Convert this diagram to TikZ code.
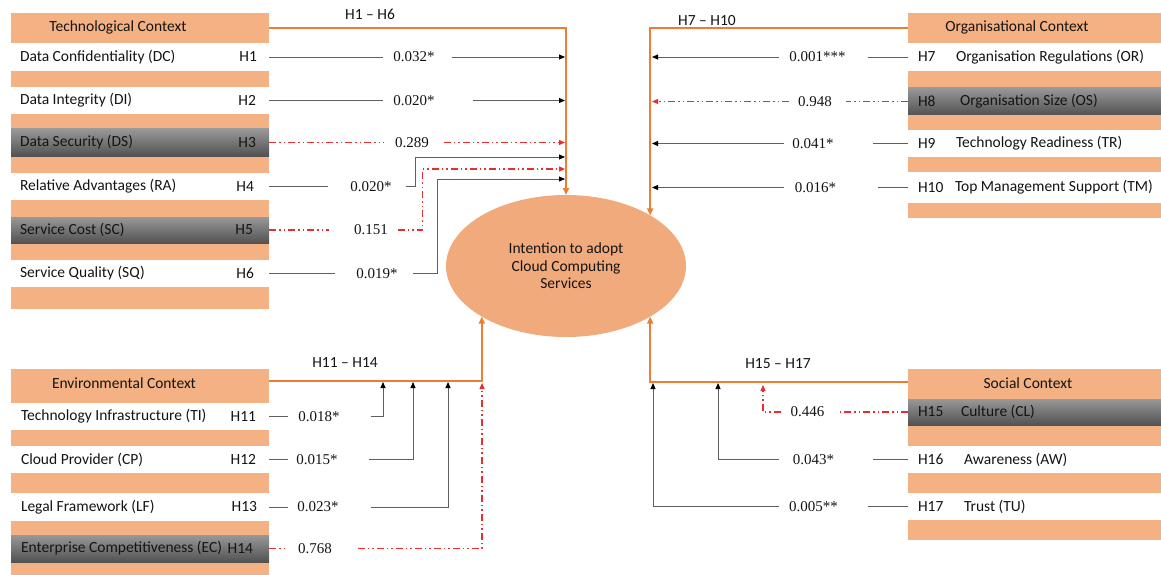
\documentclass[tikz,border=0pt]{standalone}
\usepackage{fontspec}
\setmainfont{Carlito}
\newfontfamily\valfont{Liberation Serif}
\usetikzlibrary{arrows.meta,shapes.geometric}
\definecolor{orbg}{RGB}{244,177,131}
\definecolor{ellfill}{RGB}{241,170,124}
\definecolor{orline}{RGB}{237,125,49}
\definecolor{lgray}{RGB}{95,95,95}
\definecolor{rline}{RGB}{232,45,45}
\definecolor{gtop}{RGB}{152,152,152}
\definecolor{gbot}{RGB}{82,82,82}
\definecolor{txtc}{RGB}{20,20,20}
\tikzset{
 every node/.append style={inner sep=0pt, outer sep=0pt},
 pnlbox/.style={rectangle, fill=orbg, anchor=north west},
 whiterow/.style={rectangle, fill=white, anchor=north west},
 grayrow/.style={rectangle, anchor=north west, top color=gtop, bottom color=gbot},
 labtxt/.style={font=\fontsize{15.5}{17.5}\selectfont, text=txtc},
 valtxt/.style={font=\valfont\fontsize{15}{17.5}\selectfont, text=txtc},
 gline/.style={draw=lgray, line width=0.9pt},
 rdline/.style={draw=rline, line width=1.2pt, dash pattern=on 7pt off 3pt on 1.5pt off 3pt on 1.5pt off 3pt},
 garr/.style={-{Triangle[length=6pt,width=5pt,color=black]}},
 rarr/.style={-{Triangle[length=6pt,width=5pt,color=rline]}},
 orline/.style={draw=orline, line width=1.6pt, -{Triangle[length=7pt,width=6pt]}},
}
\begin{document}
\begin{tikzpicture}[x=1pt,y=-1pt]
\useasboundingbox (0,0) rectangle (1161,575);

% ---------- Technological panel ----------
\node[pnlbox, minimum width=258pt, minimum height=296pt] (techBg) at (11,13) {};
\node[pnlbox, minimum width=258pt, minimum height=30pt] (techH) at (11,13) {};
\node[whiterow, minimum width=258pt, minimum height=28pt] (DC) at (11,43) {};
\node[whiterow, minimum width=258pt, minimum height=27pt] (DI) at (11,87) {};
\node[grayrow, minimum width=258pt, minimum height=27pt] (DS) at (11,129) {};
\node[whiterow, minimum width=258pt, minimum height=27pt] (RA) at (11,173) {};
\node[grayrow, minimum width=258pt, minimum height=26pt] (SC) at (11,217) {};
\node[whiterow, minimum width=258pt, minimum height=27pt] (SQ) at (11,260) {};
\node[labtxt] (techT) at (118,27) {Technological Context};
\node[labtxt, anchor=west] (nDC) at (20,57) {Data Confidentiality (DC)};
\node[labtxt, anchor=west] (nDI) at (20,100.5) {Data Integrity (DI)};
\node[labtxt, anchor=west] (nDS) at (20,142.5) {Data Security (DS)};
\node[labtxt, anchor=west] (nRA) at (20,186.5) {Relative Advantages (RA)};
\node[labtxt, anchor=west] (nSC) at (20,230) {Service Cost (SC)};
\node[labtxt, anchor=west] (nSQ) at (20,273.5) {Service Quality (SQ)};
\node[labtxt, anchor=east] (hDC) at (257,57) {H1};
\node[labtxt, anchor=east] (hDI) at (256,100.5) {H2};
\node[labtxt, anchor=east] (hDS) at (256,142.5) {H3};
\node[labtxt, anchor=east] (hRA) at (254,186.5) {H4};
\node[labtxt, anchor=east] (hSC) at (253,230) {H5};
\node[labtxt, anchor=east] (hSQ) at (254,273.5) {H6};

% ---------- Organisational panel ----------
\node[pnlbox, minimum width=253pt, minimum height=205pt] (orgBg) at (908,13) {};
\node[pnlbox, minimum width=253pt, minimum height=30pt] (orgH) at (908,13) {};
\node[whiterow, minimum width=253pt, minimum height=28pt] (OR) at (908,43) {};
\node[grayrow, minimum width=253pt, minimum height=27pt] (OS) at (908,88) {};
\node[whiterow, minimum width=253pt, minimum height=27pt] (TR) at (908,130) {};
\node[whiterow, minimum width=253pt, minimum height=31pt] (TM) at (908,172) {};
\node[labtxt] (orgT) at (1017,27) {Organisational Context};
\node[labtxt, anchor=west] (hOR) at (918,57) {H7};
\node[labtxt, anchor=west] (hOS) at (918,101.5) {H8};
\node[labtxt, anchor=west] (hTR) at (918,143.5) {H9};
\node[labtxt, anchor=west] (hTM) at (918,187.5) {H10};
\node[labtxt, anchor=west] (nOR) at (956,57) {Organisation Regulations (OR)};
\node[labtxt, anchor=west] (nOS) at (960,101.5) {Organisation Size (OS)};
\node[labtxt, anchor=west] (nTR) at (956,143.5) {Technology Readiness (TR)};
\node[labtxt, anchor=west] (nTM) at (955,187.5) {Top Management Support (TM)};

% ---------- Environmental panel ----------
\node[pnlbox, minimum width=258pt, minimum height=206pt] (envBg) at (11,369) {};
\node[pnlbox, minimum width=258pt, minimum height=24pt] (envH) at (11,369) {};
\node[whiterow, minimum width=258pt, minimum height=27pt] (TI) at (11,403) {};
\node[whiterow, minimum width=258pt, minimum height=27pt] (CP) at (11,446) {};
\node[whiterow, minimum width=258pt, minimum height=28pt] (LF) at (11,493) {};
\node[grayrow, minimum width=258pt, minimum height=27pt] (EC) at (11,535) {};
\node[labtxt] (envT) at (124,383) {Environmental Context};
\node[labtxt, anchor=west] (nTI) at (21,416.5) {Technology Infrastructure (TI)};
\node[labtxt, anchor=west] (nCP) at (21,459.5) {Cloud Provider (CP)};
\node[labtxt, anchor=west] (nLF) at (21,507) {Legal Framework (LF)};
\node[labtxt, anchor=west] (nEC) at (21,548.5) {Enterprise Competitiveness (EC)};
\node[labtxt, anchor=east] (hTI) at (256,416.5) {H11};
\node[labtxt, anchor=east] (hCP) at (256,459.5) {H12};
\node[labtxt, anchor=east] (hLF) at (257,507) {H13};
\node[labtxt, anchor=east] (hEC) at (253,548.5) {H14};

% ---------- Social panel ----------
\node[pnlbox, minimum width=253pt, minimum height=171pt] (socBg) at (908,369) {};
\node[pnlbox, minimum width=253pt, minimum height=26pt] (socH) at (908,369) {};
\node[grayrow, minimum width=253pt, minimum height=26pt] (CL) at (908,399) {};
\node[whiterow, minimum width=253pt, minimum height=27pt] (AW) at (908,446) {};
\node[whiterow, minimum width=253pt, minimum height=27pt] (TU) at (908,493) {};
\node[labtxt] (socT) at (1028,383) {Social Context};
\node[labtxt, anchor=west] (hCL) at (918,412) {H15};
\node[labtxt, anchor=west] (hAW) at (918,459.5) {H16};
\node[labtxt, anchor=west] (hTU) at (918,506.5) {H17};
\node[labtxt, anchor=west] (nCL) at (961,412) {Culture (CL)};
\node[labtxt, anchor=west] (nAW) at (964,459.5) {Awareness (AW)};
\node[labtxt, anchor=west] (nTU) at (964,506.5) {Trust (TU)};

% ---------- Central construct ----------
\node[ellipse, fill=ellfill, minimum width=240pt, minimum height=142pt, align=center,
      font=\fontsize{15.5}{17.5}\selectfont, text=txtc] (ell) at (566,266)
      {Intention to adopt\\Cloud Computing\\Services};

% ---------- Group labels ----------
\node[labtxt] (g1) at (370,14) {H1 – H6};
\node[labtxt] (g2) at (707,21) {H7 – H10};
\node[labtxt] (g3) at (345,363) {H11 – H14};
\node[labtxt] (g4) at (778,364) {H15 – H17};

% ---------- Orange group connectors ----------
\draw[orline] (techH.east) -| (ell.north);
\draw[orline] (orgH.west) -| (ell.31);
\draw[orline] (envH.east) -| (ell.-149);
\draw[orline] (socH.west) -| (ell.-31);

% ---------- Values ----------
\node[valtxt] (v1) at (414,57) {0.032*};
\node[valtxt] (v2) at (414,100.5) {0.020*};
\node[valtxt] (v3) at (412,142.5) {0.289};
\node[valtxt] (v4) at (371,186.5) {0.020*};
\node[valtxt] (v5) at (371,230) {0.151};
\node[valtxt] (v6) at (377,273.5) {0.019*};
\node[valtxt] (v7) at (817.5,57) {0.001***};
\node[valtxt] (v8) at (815,101.5) {0.948};
\node[valtxt] (v9) at (813,143.5) {0.041*};
\node[valtxt] (v10) at (815.5,187.5) {0.016*};
\node[valtxt] (v11) at (319,416.5) {0.018*};
\node[valtxt] (v12) at (317,459.5) {0.015*};
\node[valtxt] (v13) at (318,507) {0.023*};
\node[valtxt] (v14) at (315,548.5) {0.768};
\node[valtxt] (v15) at (807.5,412) {0.446};
\node[valtxt] (v16) at (813.5,459.5) {0.043*};
\node[valtxt] (v17) at (813.5,506.5) {0.005**};

% ---------- Arrow targets ----------
\coordinate (t1) at (565,57);
\coordinate (t2) at (565,100.5);
\coordinate (t3) at (565,142.5);
\coordinate (t4) at (565,157);
\coordinate (t5) at (565,169);
\coordinate (t6) at (565,179);
\coordinate (t7) at (652,57);
\coordinate (t8) at (652,101.5);
\coordinate (t9) at (652,143.5);
\coordinate (t10) at (652,187.5);
\coordinate (t11) at (383,382);
\coordinate (t12) at (413,382);
\coordinate (t13) at (448,382);
\coordinate (t14) at (482,383);
\coordinate (t15) at (763,385);
\coordinate (t16) at (718,383);
\coordinate (t17) at (653,383);

% ---------- Technological connectors ----------
\draw[gline] (DC.east) -- ([xshift=-10pt]v1.west);
\draw[gline,garr] ([xshift=17pt]v1.east) -- (t1);
\draw[gline] (DI.east) -- ([xshift=-10pt]v2.west);
\draw[gline,garr] ([xshift=38pt]v2.east) -- (t2);
\draw[rdline] (DS.east) -- ([xshift=-12pt]v3.west);
\draw[rdline,rarr] ([xshift=15pt]v3.east) -- (t3);
\draw[gline] (RA.east) -- ([xshift=-22pt]v4.west);
\draw[gline,garr] ([xshift=14pt]v4.east) -- ++(10,0) |- (t4);
\draw[rdline] (SC.east) -- ([xshift=-25pt]v5.west);
\draw[rdline,rarr] ([xshift=10pt]v5.east) -- ++(25,0) |- (t5);
\draw[gline] (SQ.east) -- ([xshift=-21pt]v6.west);
\draw[gline,garr] ([xshift=15pt]v6.east) -- ++(25,0) |- (t6);

% ---------- Organisational connectors ----------
\draw[gline] (OR.west) -- ([xshift=22pt]v7.east);
\draw[gline,garr] ([xshift=-10pt]v7.west) -- (t7);
\draw[rdline] (OS.west) -- ([xshift=14pt]v8.east);
\draw[rdline,rarr] ([xshift=-9pt]v8.west) -- (t8);
\draw[gline] (TR.west) -- ([xshift=39pt]v9.east);
\draw[gline,garr] ([xshift=-8pt]v9.west) -- (t9);
\draw[gline] (TM.west) -- ([xshift=42pt]v10.east);
\draw[gline,garr] ([xshift=-11pt]v10.west) -- (t10);

% ---------- Environmental connectors ----------
\draw[gline] (TI.east) -- ([xshift=-10pt]v11.west);
\draw[gline,garr] ([xshift=31pt]v11.east) -| (t11);
\draw[gline] (CP.east) -- ([xshift=-8pt]v12.west);
\draw[gline,garr] ([xshift=31pt]v12.east) -| (t12);
\draw[gline] (LF.east) -- ([xshift=-9pt]v13.west);
\draw[gline,garr] ([xshift=32pt]v13.east) -| (t13);
\draw[rdline] (EC.east) -- ([xshift=-12pt]v14.west);
\draw[rdline,rarr] ([xshift=26pt]v14.east) -| (t14);

% ---------- Social connectors ----------
\draw[rdline] (CL.west) -- ([xshift=16pt]v15.east);
\draw[rdline,rarr] ([xshift=-10pt]v15.west) -| (t15);
\draw[gline] (AW.west) -- ([xshift=39pt]v16.east);
\draw[gline,garr] ([xshift=-14pt]v16.west) -| (t16);
\draw[gline] (TU.west) -- ([xshift=30pt]v17.east);
\draw[gline,garr] ([xshift=-10pt]v17.west) -| (t17);
\end{tikzpicture}
\end{document}
